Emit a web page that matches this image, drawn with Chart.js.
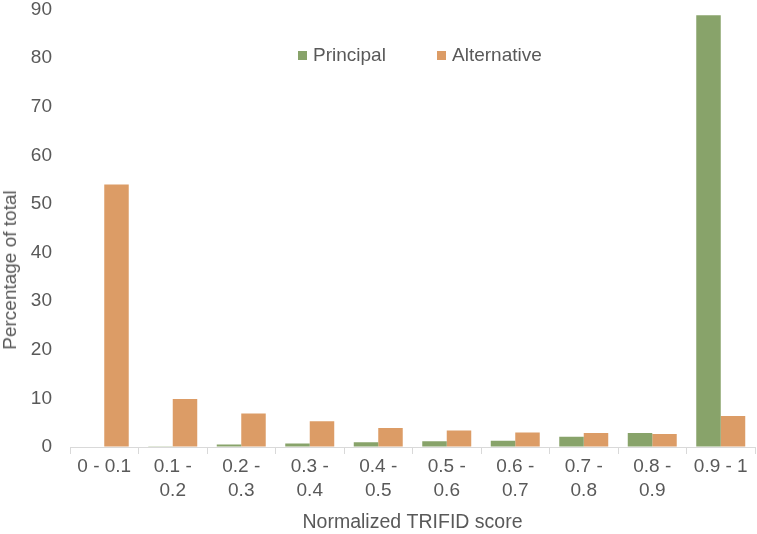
<!DOCTYPE html>
<html>
<head>
<meta charset="utf-8">
<script src="https://cdn.jsdelivr.net/npm/chart.js@4/dist/chart.umd.min.js"></script>
<style>
  html, body { margin: 0; padding: 0; background: #ffffff; }
  #wrap { position: relative; width: 757px; height: 534px; font-family: "Liberation Sans", Arial, sans-serif; }
  canvas { position: absolute; left: 0; top: 0; }
  #legend { position: absolute; top: 44px; left: 0; width: 757px; height: 22px; }
  .li { position: absolute; top: 0; font-size: 19px; color: #595959; line-height: 22px; white-space: nowrap; }
  .sw { display: inline-block; width: 9px; height: 9px; margin-right: 6px; vertical-align: 1px; }
  #ytitle { position: absolute; left: 10px; top: 270px; transform: translate(-50%, -50%) rotate(-90deg); font-size: 19px; color: #595959; white-space: nowrap; }
</style>
</head>
<body>
<div id="wrap">
  <canvas id="c" width="757" height="534"></canvas>
  <div id="legend"></div>
  <div id="ytitle">Percentage of total</div>
</div>
<script>
const categories = [
  '0 - 0.1',
  ['0.1 -', '0.2'],
  ['0.2 -', '0.3'],
  ['0.3 -', '0.4'],
  ['0.4 -', '0.5'],
  ['0.5 -', '0.6'],
  ['0.6 -', '0.7'],
  ['0.7 -', '0.8'],
  ['0.8 -', '0.9'],
  '0.9 - 1'
];
const principal = [0, 0.15, 0.5, 0.7, 1.0, 1.2, 1.3, 2.1, 2.9, 88.8];
const alternative = [54.0, 9.9, 6.9, 5.3, 3.9, 3.4, 3.0, 2.9, 2.7, 6.4];
const seriesNames = ['Principal', 'Alternative'];
const seriesColors = ['#88a36a', '#dc9c66'];
const yTicks = { min: 0, max: 90, step: 10 };

const chart = new Chart(document.getElementById('c'), {
  type: 'bar',
  data: {
    labels: categories,
    datasets: [
      { label: seriesNames[0], data: principal, backgroundColor: seriesColors[0], barPercentage: 1, categoryPercentage: 0.715 },
      { label: seriesNames[1], data: alternative, backgroundColor: seriesColors[1], barPercentage: 1, categoryPercentage: 0.715 }
    ]
  },
  options: {
    responsive: false,
    animation: false,
    devicePixelRatio: 1,
    layout: { padding: { top: 0, right: 2, bottom: 0, left: 0 } },
    plugins: { legend: { display: false }, tooltip: { enabled: false } },
    scales: {
      x: {
        grid: { display: true, drawOnChartArea: false, drawTicks: true, tickLength: 7, color: '#d9d9d9', offset: true },
        border: { display: true, color: '#d9d9d9' },
        ticks: { color: '#595959', font: { family: 'Liberation Sans', size: 19, lineHeight: 1.26 }, padding: 1, maxRotation: 0, autoSkip: false },
        title: { display: true, text: 'Normalized TRIFID score', color: '#595959', font: { family: 'Liberation Sans', size: 19.5 }, padding: { top: 4, bottom: 0 } },
        afterFit: s => { s.height = 87; }
      },
      y: {
        min: yTicks.min, max: yTicks.max,
        grid: { display: true, drawOnChartArea: false, drawTicks: true, tickLength: 18, color: 'rgba(0,0,0,0)' },
        border: { display: false },
        ticks: { stepSize: yTicks.step, color: '#595959', font: { family: 'Liberation Sans', size: 19, lineHeight: 1.0 }, padding: 0 },
        afterFit: s => { s.width = 70; }
      }
    }
  }
});

// HTML legend built from the series arrays
const legend = document.getElementById('legend');
const legendX = [298, 437];
seriesNames.forEach((n, i) => {
  const d = document.createElement('div');
  d.className = 'li';
  d.style.left = legendX[i] + 'px';
  d.innerHTML = '<span class="sw" style="background:' + seriesColors[i] + '"></span>' + n;
  legend.appendChild(d);
});
</script>
</body>
</html>
